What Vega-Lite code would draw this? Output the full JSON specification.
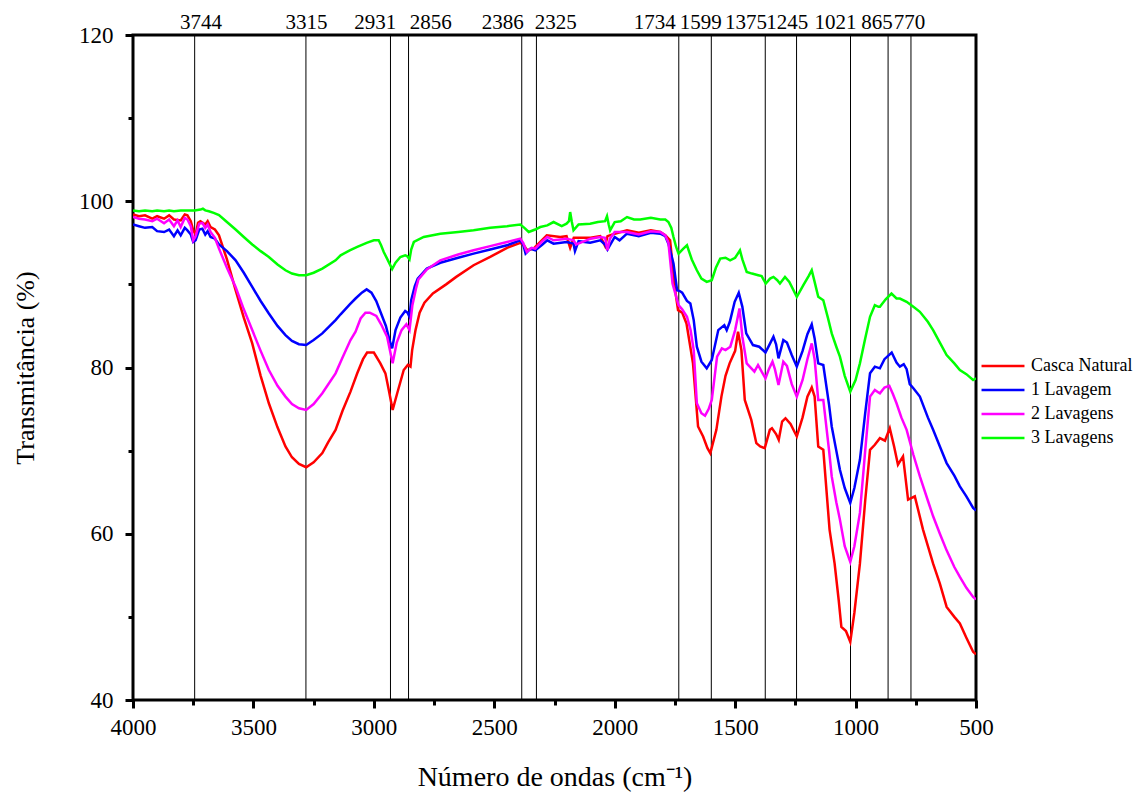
{
"$schema": "https://vega.github.io/schema/vega-lite/v6.json",
"autosize": {"type": "none"},
"padding": {"left": 133, "top": 35, "right": 160, "bottom": 93},
"width": 843,
"height": 665,
"background": "white",
"config": {"view": {"stroke": "black", "strokeWidth": 3}, "font": "Liberation Serif"},
"datasets": {
"peaks": [
{"wn": 3744, "lx": 3718, "label": "3744"},
{"wn": 3282, "lx": 3280, "label": "3315"},
{"wn": 2931, "lx": 2994, "label": "2931"},
{"wn": 2856, "lx": 2764, "label": "2856"},
{"wn": 2386, "lx": 2465, "label": "2386"},
{"wn": 2325, "lx": 2245, "label": "2325"},
{"wn": 1734, "lx": 1834, "label": "1734"},
{"wn": 1599, "lx": 1643, "label": "1599"},
{"wn": 1375, "lx": 1455, "label": "1375"},
{"wn": 1245, "lx": 1284, "label": "1245"},
{"wn": 1021, "lx": 1083, "label": "1021"},
{"wn": 865, "lx": 911, "label": "865"},
{"wn": 770, "lx": 776, "label": "770"}
],
"spectra": [
{"s":"Casca Natural","w":4000,"t":98.4},{"s":"Casca Natural","w":3975,"t":98.2},{"s":"Casca Natural","w":3950,"t":98.3},{"s":"Casca Natural","w":3920,"t":97.9},{"s":"Casca Natural","w":3900,"t":98.2},{"s":"Casca Natural","w":3871,"t":97.9},{"s":"Casca Natural","w":3850,"t":98.3},{"s":"Casca Natural","w":3830,"t":97.8},{"s":"Casca Natural","w":3802,"t":97.7},{"s":"Casca Natural","w":3785,"t":98.4},{"s":"Casca Natural","w":3774,"t":98.3},{"s":"Casca Natural","w":3760,"t":97.6},{"s":"Casca Natural","w":3750,"t":96.5},{"s":"Casca Natural","w":3740,"t":96.0},{"s":"Casca Natural","w":3730,"t":97.4},{"s":"Casca Natural","w":3720,"t":97.6},{"s":"Casca Natural","w":3700,"t":97.2},{"s":"Casca Natural","w":3690,"t":97.6},{"s":"Casca Natural","w":3678,"t":96.9},{"s":"Casca Natural","w":3660,"t":96.6},{"s":"Casca Natural","w":3643,"t":95.9},{"s":"Casca Natural","w":3610,"t":93.0},{"s":"Casca Natural","w":3574,"t":89.3},{"s":"Casca Natural","w":3540,"t":86.0},{"s":"Casca Natural","w":3505,"t":82.9},{"s":"Casca Natural","w":3470,"t":79.0},{"s":"Casca Natural","w":3436,"t":75.7},{"s":"Casca Natural","w":3400,"t":72.8},{"s":"Casca Natural","w":3367,"t":70.5},{"s":"Casca Natural","w":3340,"t":69.2},{"s":"Casca Natural","w":3311,"t":68.4},{"s":"Casca Natural","w":3281,"t":68.0},{"s":"Casca Natural","w":3250,"t":68.6},{"s":"Casca Natural","w":3214,"t":69.7},{"s":"Casca Natural","w":3190,"t":71.0},{"s":"Casca Natural","w":3159,"t":72.5},{"s":"Casca Natural","w":3130,"t":74.8},{"s":"Casca Natural","w":3097,"t":77.1},{"s":"Casca Natural","w":3069,"t":79.3},{"s":"Casca Natural","w":3045,"t":81.0},{"s":"Casca Natural","w":3028,"t":81.8},{"s":"Casca Natural","w":3000,"t":81.8},{"s":"Casca Natural","w":2973,"t":80.5},{"s":"Casca Natural","w":2952,"t":79.3},{"s":"Casca Natural","w":2938,"t":77.3},{"s":"Casca Natural","w":2922,"t":74.9},{"s":"Casca Natural","w":2903,"t":76.9},{"s":"Casca Natural","w":2876,"t":79.7},{"s":"Casca Natural","w":2859,"t":80.3},{"s":"Casca Natural","w":2848,"t":80.1},{"s":"Casca Natural","w":2841,"t":82.1},{"s":"Casca Natural","w":2827,"t":84.5},{"s":"Casca Natural","w":2810,"t":86.6},{"s":"Casca Natural","w":2790,"t":87.8},{"s":"Casca Natural","w":2755,"t":88.9},{"s":"Casca Natural","w":2700,"t":90.0},{"s":"Casca Natural","w":2658,"t":90.9},{"s":"Casca Natural","w":2586,"t":92.3},{"s":"Casca Natural","w":2517,"t":93.3},{"s":"Casca Natural","w":2447,"t":94.4},{"s":"Casca Natural","w":2392,"t":95.0},{"s":"Casca Natural","w":2375,"t":94.6},{"s":"Casca Natural","w":2364,"t":94.1},{"s":"Casca Natural","w":2337,"t":94.3},{"s":"Casca Natural","w":2282,"t":95.9},{"s":"Casca Natural","w":2226,"t":95.7},{"s":"Casca Natural","w":2200,"t":95.8},{"s":"Casca Natural","w":2185,"t":94.4},{"s":"Casca Natural","w":2170,"t":95.6},{"s":"Casca Natural","w":2100,"t":95.6},{"s":"Casca Natural","w":2060,"t":95.8},{"s":"Casca Natural","w":2040,"t":94.6},{"s":"Casca Natural","w":2030,"t":95.8},{"s":"Casca Natural","w":2000,"t":96.1},{"s":"Casca Natural","w":1949,"t":96.5},{"s":"Casca Natural","w":1900,"t":96.2},{"s":"Casca Natural","w":1850,"t":96.5},{"s":"Casca Natural","w":1811,"t":96.3},{"s":"Casca Natural","w":1790,"t":95.9},{"s":"Casca Natural","w":1770,"t":95.3},{"s":"Casca Natural","w":1751,"t":89.7},{"s":"Casca Natural","w":1737,"t":86.9},{"s":"Casca Natural","w":1720,"t":86.6},{"s":"Casca Natural","w":1702,"t":85.3},{"s":"Casca Natural","w":1675,"t":80.5},{"s":"Casca Natural","w":1654,"t":72.9},{"s":"Casca Natural","w":1633,"t":71.7},{"s":"Casca Natural","w":1615,"t":70.3},{"s":"Casca Natural","w":1603,"t":69.7},{"s":"Casca Natural","w":1578,"t":72.5},{"s":"Casca Natural","w":1557,"t":76.5},{"s":"Casca Natural","w":1540,"t":79.0},{"s":"Casca Natural","w":1523,"t":80.5},{"s":"Casca Natural","w":1500,"t":82.0},{"s":"Casca Natural","w":1488,"t":84.3},{"s":"Casca Natural","w":1474,"t":82.1},{"s":"Casca Natural","w":1460,"t":76.1},{"s":"Casca Natural","w":1433,"t":73.7},{"s":"Casca Natural","w":1412,"t":70.9},{"s":"Casca Natural","w":1396,"t":70.5},{"s":"Casca Natural","w":1377,"t":70.3},{"s":"Casca Natural","w":1356,"t":72.5},{"s":"Casca Natural","w":1347,"t":72.7},{"s":"Casca Natural","w":1330,"t":72.0},{"s":"Casca Natural","w":1319,"t":71.3},{"s":"Casca Natural","w":1305,"t":73.5},{"s":"Casca Natural","w":1291,"t":73.9},{"s":"Casca Natural","w":1270,"t":73.2},{"s":"Casca Natural","w":1244,"t":71.7},{"s":"Casca Natural","w":1220,"t":74.0},{"s":"Casca Natural","w":1200,"t":76.5},{"s":"Casca Natural","w":1182,"t":77.6},{"s":"Casca Natural","w":1170,"t":76.5},{"s":"Casca Natural","w":1155,"t":70.5},{"s":"Casca Natural","w":1134,"t":70.1},{"s":"Casca Natural","w":1108,"t":60.5},{"s":"Casca Natural","w":1087,"t":56.4},{"s":"Casca Natural","w":1070,"t":52.0},{"s":"Casca Natural","w":1059,"t":48.8},{"s":"Casca Natural","w":1040,"t":48.3},{"s":"Casca Natural","w":1022,"t":47.0},{"s":"Casca Natural","w":1005,"t":50.5},{"s":"Casca Natural","w":982,"t":56.4},{"s":"Casca Natural","w":960,"t":64.0},{"s":"Casca Natural","w":940,"t":70.1},{"s":"Casca Natural","w":920,"t":70.7},{"s":"Casca Natural","w":899,"t":71.5},{"s":"Casca Natural","w":878,"t":71.2},{"s":"Casca Natural","w":858,"t":72.7},{"s":"Casca Natural","w":840,"t":70.5},{"s":"Casca Natural","w":824,"t":68.3},{"s":"Casca Natural","w":803,"t":69.3},{"s":"Casca Natural","w":782,"t":64.1},{"s":"Casca Natural","w":754,"t":64.5},{"s":"Casca Natural","w":720,"t":60.5},{"s":"Casca Natural","w":678,"t":56.4},{"s":"Casca Natural","w":650,"t":54.0},{"s":"Casca Natural","w":622,"t":51.2},{"s":"Casca Natural","w":590,"t":50.0},{"s":"Casca Natural","w":567,"t":49.2},{"s":"Casca Natural","w":540,"t":47.5},{"s":"Casca Natural","w":512,"t":45.8},{"s":"Casca Natural","w":500,"t":45.5},
{"s":"1 Lavagem","w":4000,"t":97.2},{"s":"1 Lavagem","w":3975,"t":97.0},{"s":"1 Lavagem","w":3950,"t":96.8},{"s":"1 Lavagem","w":3920,"t":96.9},{"s":"1 Lavagem","w":3900,"t":96.4},{"s":"1 Lavagem","w":3871,"t":96.3},{"s":"1 Lavagem","w":3850,"t":96.6},{"s":"1 Lavagem","w":3830,"t":95.8},{"s":"1 Lavagem","w":3815,"t":96.5},{"s":"1 Lavagem","w":3802,"t":95.9},{"s":"1 Lavagem","w":3785,"t":96.8},{"s":"1 Lavagem","w":3774,"t":96.5},{"s":"1 Lavagem","w":3760,"t":96.0},{"s":"1 Lavagem","w":3750,"t":95.1},{"s":"1 Lavagem","w":3740,"t":95.3},{"s":"1 Lavagem","w":3725,"t":96.6},{"s":"1 Lavagem","w":3712,"t":96.7},{"s":"1 Lavagem","w":3700,"t":96.0},{"s":"1 Lavagem","w":3690,"t":96.4},{"s":"1 Lavagem","w":3678,"t":95.7},{"s":"1 Lavagem","w":3660,"t":95.5},{"s":"1 Lavagem","w":3643,"t":94.8},{"s":"1 Lavagem","w":3610,"t":94.0},{"s":"1 Lavagem","w":3574,"t":92.9},{"s":"1 Lavagem","w":3540,"t":91.4},{"s":"1 Lavagem","w":3505,"t":89.7},{"s":"1 Lavagem","w":3470,"t":88.0},{"s":"1 Lavagem","w":3436,"t":86.5},{"s":"1 Lavagem","w":3400,"t":85.0},{"s":"1 Lavagem","w":3367,"t":83.9},{"s":"1 Lavagem","w":3340,"t":83.2},{"s":"1 Lavagem","w":3311,"t":82.8},{"s":"1 Lavagem","w":3281,"t":82.7},{"s":"1 Lavagem","w":3250,"t":83.3},{"s":"1 Lavagem","w":3214,"t":84.1},{"s":"1 Lavagem","w":3159,"t":85.7},{"s":"1 Lavagem","w":3138,"t":86.4},{"s":"1 Lavagem","w":3100,"t":87.6},{"s":"1 Lavagem","w":3076,"t":88.3},{"s":"1 Lavagem","w":3050,"t":89.0},{"s":"1 Lavagem","w":3030,"t":89.4},{"s":"1 Lavagem","w":3010,"t":89.0},{"s":"1 Lavagem","w":2990,"t":88.0},{"s":"1 Lavagem","w":2970,"t":86.5},{"s":"1 Lavagem","w":2950,"t":85.0},{"s":"1 Lavagem","w":2935,"t":83.3},{"s":"1 Lavagem","w":2924,"t":82.3},{"s":"1 Lavagem","w":2910,"t":84.5},{"s":"1 Lavagem","w":2890,"t":86.0},{"s":"1 Lavagem","w":2870,"t":86.8},{"s":"1 Lavagem","w":2860,"t":86.6},{"s":"1 Lavagem","w":2852,"t":86.1},{"s":"1 Lavagem","w":2845,"t":88.1},{"s":"1 Lavagem","w":2830,"t":89.8},{"s":"1 Lavagem","w":2818,"t":90.7},{"s":"1 Lavagem","w":2780,"t":91.9},{"s":"1 Lavagem","w":2724,"t":92.6},{"s":"1 Lavagem","w":2650,"t":93.2},{"s":"1 Lavagem","w":2586,"t":93.7},{"s":"1 Lavagem","w":2517,"t":94.2},{"s":"1 Lavagem","w":2447,"t":94.7},{"s":"1 Lavagem","w":2392,"t":95.3},{"s":"1 Lavagem","w":2380,"t":94.8},{"s":"1 Lavagem","w":2370,"t":93.7},{"s":"1 Lavagem","w":2350,"t":94.3},{"s":"1 Lavagem","w":2330,"t":94.1},{"s":"1 Lavagem","w":2300,"t":94.8},{"s":"1 Lavagem","w":2280,"t":95.3},{"s":"1 Lavagem","w":2254,"t":94.9},{"s":"1 Lavagem","w":2200,"t":95.1},{"s":"1 Lavagem","w":2171,"t":94.9},{"s":"1 Lavagem","w":2165,"t":94.0},{"s":"1 Lavagem","w":2150,"t":95.2},{"s":"1 Lavagem","w":2102,"t":95.0},{"s":"1 Lavagem","w":2060,"t":95.3},{"s":"1 Lavagem","w":2040,"t":94.8},{"s":"1 Lavagem","w":2030,"t":94.2},{"s":"1 Lavagem","w":2000,"t":95.7},{"s":"1 Lavagem","w":1980,"t":95.3},{"s":"1 Lavagem","w":1949,"t":96.1},{"s":"1 Lavagem","w":1900,"t":95.8},{"s":"1 Lavagem","w":1850,"t":96.2},{"s":"1 Lavagem","w":1811,"t":96.1},{"s":"1 Lavagem","w":1790,"t":95.8},{"s":"1 Lavagem","w":1777,"t":94.9},{"s":"1 Lavagem","w":1756,"t":92.5},{"s":"1 Lavagem","w":1741,"t":89.3},{"s":"1 Lavagem","w":1730,"t":89.2},{"s":"1 Lavagem","w":1720,"t":89.0},{"s":"1 Lavagem","w":1700,"t":88.0},{"s":"1 Lavagem","w":1686,"t":87.7},{"s":"1 Lavagem","w":1672,"t":85.7},{"s":"1 Lavagem","w":1659,"t":82.5},{"s":"1 Lavagem","w":1640,"t":80.7},{"s":"1 Lavagem","w":1618,"t":79.9},{"s":"1 Lavagem","w":1597,"t":80.9},{"s":"1 Lavagem","w":1570,"t":84.5},{"s":"1 Lavagem","w":1545,"t":85.1},{"s":"1 Lavagem","w":1535,"t":84.5},{"s":"1 Lavagem","w":1522,"t":85.5},{"s":"1 Lavagem","w":1502,"t":87.9},{"s":"1 Lavagem","w":1485,"t":89.0},{"s":"1 Lavagem","w":1470,"t":87.3},{"s":"1 Lavagem","w":1454,"t":84.1},{"s":"1 Lavagem","w":1426,"t":82.7},{"s":"1 Lavagem","w":1400,"t":82.5},{"s":"1 Lavagem","w":1374,"t":81.8},{"s":"1 Lavagem","w":1360,"t":82.6},{"s":"1 Lavagem","w":1341,"t":83.7},{"s":"1 Lavagem","w":1330,"t":82.8},{"s":"1 Lavagem","w":1320,"t":81.1},{"s":"1 Lavagem","w":1300,"t":83.3},{"s":"1 Lavagem","w":1285,"t":83.0},{"s":"1 Lavagem","w":1265,"t":81.5},{"s":"1 Lavagem","w":1244,"t":80.1},{"s":"1 Lavagem","w":1220,"t":82.0},{"s":"1 Lavagem","w":1200,"t":84.0},{"s":"1 Lavagem","w":1182,"t":85.2},{"s":"1 Lavagem","w":1170,"t":83.5},{"s":"1 Lavagem","w":1155,"t":80.5},{"s":"1 Lavagem","w":1134,"t":80.3},{"s":"1 Lavagem","w":1110,"t":75.5},{"s":"1 Lavagem","w":1099,"t":72.9},{"s":"1 Lavagem","w":1080,"t":70.0},{"s":"1 Lavagem","w":1065,"t":67.7},{"s":"1 Lavagem","w":1045,"t":65.5},{"s":"1 Lavagem","w":1022,"t":63.7},{"s":"1 Lavagem","w":1005,"t":65.5},{"s":"1 Lavagem","w":982,"t":68.9},{"s":"1 Lavagem","w":960,"t":74.5},{"s":"1 Lavagem","w":940,"t":79.3},{"s":"1 Lavagem","w":920,"t":80.1},{"s":"1 Lavagem","w":899,"t":79.9},{"s":"1 Lavagem","w":880,"t":81.0},{"s":"1 Lavagem","w":850,"t":81.8},{"s":"1 Lavagem","w":830,"t":80.6},{"s":"1 Lavagem","w":816,"t":80.1},{"s":"1 Lavagem","w":800,"t":80.4},{"s":"1 Lavagem","w":788,"t":79.8},{"s":"1 Lavagem","w":775,"t":78.0},{"s":"1 Lavagem","w":760,"t":77.5},{"s":"1 Lavagem","w":733,"t":76.5},{"s":"1 Lavagem","w":700,"t":74.0},{"s":"1 Lavagem","w":678,"t":72.5},{"s":"1 Lavagem","w":650,"t":70.5},{"s":"1 Lavagem","w":622,"t":68.5},{"s":"1 Lavagem","w":590,"t":67.0},{"s":"1 Lavagem","w":567,"t":65.7},{"s":"1 Lavagem","w":540,"t":64.5},{"s":"1 Lavagem","w":512,"t":63.1},{"s":"1 Lavagem","w":500,"t":62.8},
{"s":"2 Lavagens","w":4000,"t":98.1},{"s":"2 Lavagens","w":3975,"t":97.9},{"s":"2 Lavagens","w":3950,"t":97.8},{"s":"2 Lavagens","w":3920,"t":97.6},{"s":"2 Lavagens","w":3900,"t":97.9},{"s":"2 Lavagens","w":3871,"t":97.35},{"s":"2 Lavagens","w":3850,"t":97.8},{"s":"2 Lavagens","w":3830,"t":97.0},{"s":"2 Lavagens","w":3815,"t":97.7},{"s":"2 Lavagens","w":3802,"t":96.9},{"s":"2 Lavagens","w":3785,"t":98.0},{"s":"2 Lavagens","w":3774,"t":97.8},{"s":"2 Lavagens","w":3760,"t":97.0},{"s":"2 Lavagens","w":3750,"t":95.3},{"s":"2 Lavagens","w":3740,"t":95.8},{"s":"2 Lavagens","w":3725,"t":97.3},{"s":"2 Lavagens","w":3712,"t":97.4},{"s":"2 Lavagens","w":3700,"t":96.8},{"s":"2 Lavagens","w":3690,"t":97.2},{"s":"2 Lavagens","w":3678,"t":96.3},{"s":"2 Lavagens","w":3660,"t":95.6},{"s":"2 Lavagens","w":3643,"t":94.3},{"s":"2 Lavagens","w":3610,"t":92.0},{"s":"2 Lavagens","w":3574,"t":89.7},{"s":"2 Lavagens","w":3540,"t":87.0},{"s":"2 Lavagens","w":3505,"t":84.5},{"s":"2 Lavagens","w":3470,"t":82.0},{"s":"2 Lavagens","w":3436,"t":79.7},{"s":"2 Lavagens","w":3400,"t":77.8},{"s":"2 Lavagens","w":3367,"t":76.5},{"s":"2 Lavagens","w":3340,"t":75.6},{"s":"2 Lavagens","w":3311,"t":75.1},{"s":"2 Lavagens","w":3281,"t":74.9},{"s":"2 Lavagens","w":3250,"t":75.6},{"s":"2 Lavagens","w":3214,"t":76.9},{"s":"2 Lavagens","w":3159,"t":79.3},{"s":"2 Lavagens","w":3130,"t":81.2},{"s":"2 Lavagens","w":3097,"t":83.3},{"s":"2 Lavagens","w":3076,"t":84.3},{"s":"2 Lavagens","w":3055,"t":85.9},{"s":"2 Lavagens","w":3035,"t":86.6},{"s":"2 Lavagens","w":3017,"t":86.6},{"s":"2 Lavagens","w":2990,"t":86.2},{"s":"2 Lavagens","w":2970,"t":85.2},{"s":"2 Lavagens","w":2945,"t":83.7},{"s":"2 Lavagens","w":2922,"t":80.5},{"s":"2 Lavagens","w":2905,"t":83.0},{"s":"2 Lavagens","w":2885,"t":84.5},{"s":"2 Lavagens","w":2865,"t":85.2},{"s":"2 Lavagens","w":2852,"t":84.5},{"s":"2 Lavagens","w":2840,"t":87.5},{"s":"2 Lavagens","w":2825,"t":89.5},{"s":"2 Lavagens","w":2815,"t":90.6},{"s":"2 Lavagens","w":2780,"t":91.8},{"s":"2 Lavagens","w":2724,"t":92.9},{"s":"2 Lavagens","w":2650,"t":93.6},{"s":"2 Lavagens","w":2586,"t":94.1},{"s":"2 Lavagens","w":2517,"t":94.6},{"s":"2 Lavagens","w":2447,"t":95.1},{"s":"2 Lavagens","w":2392,"t":95.5},{"s":"2 Lavagens","w":2380,"t":95.0},{"s":"2 Lavagens","w":2365,"t":93.9},{"s":"2 Lavagens","w":2345,"t":94.4},{"s":"2 Lavagens","w":2330,"t":94.3},{"s":"2 Lavagens","w":2300,"t":95.2},{"s":"2 Lavagens","w":2280,"t":95.7},{"s":"2 Lavagens","w":2254,"t":95.3},{"s":"2 Lavagens","w":2200,"t":95.5},{"s":"2 Lavagens","w":2171,"t":95.3},{"s":"2 Lavagens","w":2160,"t":94.8},{"s":"2 Lavagens","w":2100,"t":95.5},{"s":"2 Lavagens","w":2060,"t":95.7},{"s":"2 Lavagens","w":2040,"t":95.6},{"s":"2 Lavagens","w":2030,"t":94.1},{"s":"2 Lavagens","w":2020,"t":95.5},{"s":"2 Lavagens","w":2000,"t":96.3},{"s":"2 Lavagens","w":1949,"t":96.3},{"s":"2 Lavagens","w":1900,"t":96.0},{"s":"2 Lavagens","w":1850,"t":96.4},{"s":"2 Lavagens","w":1811,"t":96.3},{"s":"2 Lavagens","w":1790,"t":95.9},{"s":"2 Lavagens","w":1777,"t":95.0},{"s":"2 Lavagens","w":1760,"t":90.1},{"s":"2 Lavagens","w":1735,"t":87.5},{"s":"2 Lavagens","w":1720,"t":87.0},{"s":"2 Lavagens","w":1700,"t":86.1},{"s":"2 Lavagens","w":1685,"t":84.5},{"s":"2 Lavagens","w":1672,"t":82.1},{"s":"2 Lavagens","w":1659,"t":75.7},{"s":"2 Lavagens","w":1640,"t":74.5},{"s":"2 Lavagens","w":1625,"t":74.2},{"s":"2 Lavagens","w":1610,"t":75.0},{"s":"2 Lavagens","w":1597,"t":76.1},{"s":"2 Lavagens","w":1575,"t":81.3},{"s":"2 Lavagens","w":1555,"t":82.3},{"s":"2 Lavagens","w":1540,"t":82.1},{"s":"2 Lavagens","w":1520,"t":82.5},{"s":"2 Lavagens","w":1500,"t":84.5},{"s":"2 Lavagens","w":1482,"t":87.1},{"s":"2 Lavagens","w":1470,"t":83.7},{"s":"2 Lavagens","w":1452,"t":80.5},{"s":"2 Lavagens","w":1420,"t":79.5},{"s":"2 Lavagens","w":1405,"t":80.3},{"s":"2 Lavagens","w":1390,"t":79.5},{"s":"2 Lavagens","w":1374,"t":78.7},{"s":"2 Lavagens","w":1360,"t":79.8},{"s":"2 Lavagens","w":1345,"t":80.7},{"s":"2 Lavagens","w":1335,"t":79.8},{"s":"2 Lavagens","w":1320,"t":77.9},{"s":"2 Lavagens","w":1300,"t":80.7},{"s":"2 Lavagens","w":1285,"t":80.2},{"s":"2 Lavagens","w":1265,"t":78.0},{"s":"2 Lavagens","w":1244,"t":76.5},{"s":"2 Lavagens","w":1220,"t":78.5},{"s":"2 Lavagens","w":1200,"t":81.0},{"s":"2 Lavagens","w":1182,"t":82.9},{"s":"2 Lavagens","w":1170,"t":81.0},{"s":"2 Lavagens","w":1155,"t":76.1},{"s":"2 Lavagens","w":1134,"t":76.1},{"s":"2 Lavagens","w":1110,"t":70.0},{"s":"2 Lavagens","w":1099,"t":66.9},{"s":"2 Lavagens","w":1080,"t":63.8},{"s":"2 Lavagens","w":1065,"t":61.7},{"s":"2 Lavagens","w":1045,"t":58.5},{"s":"2 Lavagens","w":1022,"t":56.6},{"s":"2 Lavagens","w":1005,"t":58.5},{"s":"2 Lavagens","w":982,"t":62.5},{"s":"2 Lavagens","w":960,"t":70.0},{"s":"2 Lavagens","w":940,"t":76.5},{"s":"2 Lavagens","w":920,"t":77.3},{"s":"2 Lavagens","w":905,"t":77.0},{"s":"2 Lavagens","w":899,"t":76.9},{"s":"2 Lavagens","w":880,"t":77.6},{"s":"2 Lavagens","w":860,"t":77.8},{"s":"2 Lavagens","w":845,"t":76.8},{"s":"2 Lavagens","w":830,"t":75.7},{"s":"2 Lavagens","w":810,"t":74.0},{"s":"2 Lavagens","w":788,"t":72.5},{"s":"2 Lavagens","w":760,"t":69.5},{"s":"2 Lavagens","w":733,"t":66.9},{"s":"2 Lavagens","w":700,"t":64.0},{"s":"2 Lavagens","w":678,"t":62.1},{"s":"2 Lavagens","w":650,"t":60.0},{"s":"2 Lavagens","w":622,"t":58.0},{"s":"2 Lavagens","w":590,"t":56.0},{"s":"2 Lavagens","w":567,"t":54.8},{"s":"2 Lavagens","w":540,"t":53.5},{"s":"2 Lavagens","w":512,"t":52.4},{"s":"2 Lavagens","w":500,"t":52.1},
{"s":"3 Lavagens","w":4000,"t":98.9},{"s":"3 Lavagens","w":3975,"t":98.8},{"s":"3 Lavagens","w":3950,"t":98.9},{"s":"3 Lavagens","w":3920,"t":98.8},{"s":"3 Lavagens","w":3900,"t":98.9},{"s":"3 Lavagens","w":3871,"t":98.8},{"s":"3 Lavagens","w":3850,"t":98.9},{"s":"3 Lavagens","w":3830,"t":98.8},{"s":"3 Lavagens","w":3802,"t":98.9},{"s":"3 Lavagens","w":3774,"t":98.9},{"s":"3 Lavagens","w":3744,"t":98.9},{"s":"3 Lavagens","w":3720,"t":99.0},{"s":"3 Lavagens","w":3710,"t":99.1},{"s":"3 Lavagens","w":3700,"t":98.9},{"s":"3 Lavagens","w":3685,"t":98.8},{"s":"3 Lavagens","w":3665,"t":98.6},{"s":"3 Lavagens","w":3643,"t":98.35},{"s":"3 Lavagens","w":3610,"t":97.5},{"s":"3 Lavagens","w":3574,"t":96.6},{"s":"3 Lavagens","w":3540,"t":95.7},{"s":"3 Lavagens","w":3505,"t":94.8},{"s":"3 Lavagens","w":3470,"t":94.0},{"s":"3 Lavagens","w":3436,"t":93.3},{"s":"3 Lavagens","w":3400,"t":92.4},{"s":"3 Lavagens","w":3367,"t":91.7},{"s":"3 Lavagens","w":3340,"t":91.3},{"s":"3 Lavagens","w":3311,"t":91.1},{"s":"3 Lavagens","w":3281,"t":91.1},{"s":"3 Lavagens","w":3250,"t":91.4},{"s":"3 Lavagens","w":3214,"t":91.9},{"s":"3 Lavagens","w":3159,"t":92.9},{"s":"3 Lavagens","w":3138,"t":93.5},{"s":"3 Lavagens","w":3100,"t":94.1},{"s":"3 Lavagens","w":3069,"t":94.5},{"s":"3 Lavagens","w":3030,"t":95.0},{"s":"3 Lavagens","w":3000,"t":95.3},{"s":"3 Lavagens","w":2980,"t":95.3},{"s":"3 Lavagens","w":2970,"t":94.7},{"s":"3 Lavagens","w":2959,"t":93.9},{"s":"3 Lavagens","w":2940,"t":92.8},{"s":"3 Lavagens","w":2924,"t":91.85},{"s":"3 Lavagens","w":2910,"t":92.6},{"s":"3 Lavagens","w":2890,"t":93.3},{"s":"3 Lavagens","w":2870,"t":93.5},{"s":"3 Lavagens","w":2862,"t":93.4},{"s":"3 Lavagens","w":2852,"t":93.0},{"s":"3 Lavagens","w":2845,"t":94.2},{"s":"3 Lavagens","w":2834,"t":95.1},{"s":"3 Lavagens","w":2793,"t":95.7},{"s":"3 Lavagens","w":2724,"t":96.1},{"s":"3 Lavagens","w":2650,"t":96.3},{"s":"3 Lavagens","w":2586,"t":96.5},{"s":"3 Lavagens","w":2517,"t":96.8},{"s":"3 Lavagens","w":2447,"t":97.0},{"s":"3 Lavagens","w":2392,"t":97.2},{"s":"3 Lavagens","w":2375,"t":96.8},{"s":"3 Lavagens","w":2357,"t":96.3},{"s":"3 Lavagens","w":2330,"t":96.6},{"s":"3 Lavagens","w":2309,"t":96.9},{"s":"3 Lavagens","w":2280,"t":97.1},{"s":"3 Lavagens","w":2254,"t":97.5},{"s":"3 Lavagens","w":2220,"t":97.0},{"s":"3 Lavagens","w":2200,"t":97.3},{"s":"3 Lavagens","w":2190,"t":97.6},{"s":"3 Lavagens","w":2185,"t":98.7},{"s":"3 Lavagens","w":2178,"t":97.5},{"s":"3 Lavagens","w":2171,"t":96.5},{"s":"3 Lavagens","w":2150,"t":97.2},{"s":"3 Lavagens","w":2102,"t":97.3},{"s":"3 Lavagens","w":2070,"t":97.5},{"s":"3 Lavagens","w":2040,"t":97.6},{"s":"3 Lavagens","w":2032,"t":98.2},{"s":"3 Lavagens","w":2025,"t":97.2},{"s":"3 Lavagens","w":2019,"t":96.5},{"s":"3 Lavagens","w":2000,"t":97.5},{"s":"3 Lavagens","w":1975,"t":97.6},{"s":"3 Lavagens","w":1949,"t":98.1},{"s":"3 Lavagens","w":1920,"t":97.8},{"s":"3 Lavagens","w":1894,"t":97.8},{"s":"3 Lavagens","w":1850,"t":98.0},{"s":"3 Lavagens","w":1811,"t":97.8},{"s":"3 Lavagens","w":1790,"t":97.8},{"s":"3 Lavagens","w":1777,"t":97.5},{"s":"3 Lavagens","w":1765,"t":96.8},{"s":"3 Lavagens","w":1756,"t":95.7},{"s":"3 Lavagens","w":1745,"t":94.5},{"s":"3 Lavagens","w":1735,"t":93.7},{"s":"3 Lavagens","w":1715,"t":94.3},{"s":"3 Lavagens","w":1700,"t":94.7},{"s":"3 Lavagens","w":1680,"t":93.0},{"s":"3 Lavagens","w":1659,"t":91.7},{"s":"3 Lavagens","w":1640,"t":90.7},{"s":"3 Lavagens","w":1618,"t":90.3},{"s":"3 Lavagens","w":1597,"t":90.5},{"s":"3 Lavagens","w":1580,"t":92.0},{"s":"3 Lavagens","w":1562,"t":93.1},{"s":"3 Lavagens","w":1540,"t":93.2},{"s":"3 Lavagens","w":1521,"t":92.9},{"s":"3 Lavagens","w":1500,"t":93.2},{"s":"3 Lavagens","w":1480,"t":94.1},{"s":"3 Lavagens","w":1470,"t":93.0},{"s":"3 Lavagens","w":1452,"t":91.5},{"s":"3 Lavagens","w":1430,"t":91.3},{"s":"3 Lavagens","w":1404,"t":91.1},{"s":"3 Lavagens","w":1390,"t":91.0},{"s":"3 Lavagens","w":1373,"t":90.1},{"s":"3 Lavagens","w":1355,"t":90.7},{"s":"3 Lavagens","w":1341,"t":90.9},{"s":"3 Lavagens","w":1325,"t":90.5},{"s":"3 Lavagens","w":1314,"t":90.1},{"s":"3 Lavagens","w":1293,"t":90.9},{"s":"3 Lavagens","w":1275,"t":90.3},{"s":"3 Lavagens","w":1244,"t":88.5},{"s":"3 Lavagens","w":1215,"t":90.0},{"s":"3 Lavagens","w":1195,"t":91.0},{"s":"3 Lavagens","w":1182,"t":91.7},{"s":"3 Lavagens","w":1170,"t":90.3},{"s":"3 Lavagens","w":1155,"t":88.5},{"s":"3 Lavagens","w":1134,"t":88.1},{"s":"3 Lavagens","w":1115,"t":86.0},{"s":"3 Lavagens","w":1099,"t":84.1},{"s":"3 Lavagens","w":1080,"t":82.5},{"s":"3 Lavagens","w":1065,"t":81.3},{"s":"3 Lavagens","w":1045,"t":79.0},{"s":"3 Lavagens","w":1022,"t":77.1},{"s":"3 Lavagens","w":1000,"t":78.5},{"s":"3 Lavagens","w":982,"t":80.5},{"s":"3 Lavagens","w":960,"t":83.5},{"s":"3 Lavagens","w":940,"t":86.1},{"s":"3 Lavagens","w":920,"t":87.5},{"s":"3 Lavagens","w":905,"t":87.3},{"s":"3 Lavagens","w":899,"t":87.3},{"s":"3 Lavagens","w":875,"t":88.2},{"s":"3 Lavagens","w":851,"t":88.9},{"s":"3 Lavagens","w":830,"t":88.3},{"s":"3 Lavagens","w":816,"t":88.3},{"s":"3 Lavagens","w":788,"t":87.9},{"s":"3 Lavagens","w":760,"t":87.3},{"s":"3 Lavagens","w":733,"t":86.7},{"s":"3 Lavagens","w":700,"t":85.5},{"s":"3 Lavagens","w":678,"t":84.5},{"s":"3 Lavagens","w":650,"t":83.0},{"s":"3 Lavagens","w":622,"t":81.5},{"s":"3 Lavagens","w":590,"t":80.5},{"s":"3 Lavagens","w":567,"t":79.7},{"s":"3 Lavagens","w":540,"t":79.2},{"s":"3 Lavagens","w":512,"t":78.5},{"s":"3 Lavagens","w":500,"t":78.7}
]
},
"layer": [
{
"data": {"name": "peaks"},
"mark": {"type": "rule", "stroke": "black", "strokeWidth": 1},
"encoding": {
"x": {"field": "wn", "type": "quantitative", "scale": {"domain": [4000, 500], "zero": false, "nice": false},
"axis": {"orient": "bottom", "values": [3750, 3250, 2750, 2250, 1750, 1250, 750], "labels": false, "domain": false, "grid": false, "title": null, "tickSize": 5, "tickWidth": 3, "tickColor": "black"}}
}
},
{
"data": {"name": "peaks"},
"mark": {"type": "text", "fontSize": 21, "font": "Liberation Serif", "baseline": "alphabetic", "dy": -6, "color": "black"},
"encoding": {
"x": {"field": "lx", "type": "quantitative", "axis": null},
"y": {"datum": 120, "type": "quantitative", "axis": {"orient": "left", "values": [50, 70, 90, 110], "labels": false, "domain": false, "grid": false, "title": null, "tickSize": 5, "tickWidth": 3, "tickColor": "black"}},
"text": {"field": "label"}
}
},
{
"data": {"name": "spectra"},
"mark": {"type": "line", "strokeWidth": 2.5, "clip": true},
"encoding": {
"x": {"field": "w", "type": "quantitative",
"axis": {"orient": "bottom", "values": [4000, 3500, 3000, 2500, 2000, 1500, 1000, 500], "format": "d", "domain": false, "grid": false, "tickSize": 8, "tickWidth": 3, "tickColor": "black", "labelFont": "Liberation Serif", "labelFontSize": 23, "labelColor": "black", "labelPadding": 8, "labelFlush": false, "labelOverlap": false, "title": "Número de ondas (cm⁻¹)", "titleFont": "Liberation Serif", "titleFontSize": 28, "titleFontWeight": "normal", "titleColor": "black", "titlePadding": 24}},
"y": {"field": "t", "type": "quantitative", "scale": {"domain": [40, 120], "zero": false, "nice": false},
"axis": {"orient": "left", "values": [40, 60, 80, 100, 120], "domain": false, "grid": false, "tickSize": 8, "tickWidth": 3, "tickColor": "black", "labelFont": "Liberation Serif", "labelFontSize": 23, "labelColor": "black", "labelPadding": 12, "labelFlush": false, "labelOverlap": false, "title": "Transmitância (%)", "titleFont": "Liberation Serif", "titleFontSize": 26, "titleFontWeight": "normal", "titleColor": "black", "titlePadding": 40}},
"color": {"field": "s", "type": "nominal",
"scale": {"domain": ["Casca Natural", "1 Lavagem", "2 Lavagens", "3 Lavagens"], "range": ["#FF0000", "#0000FF", "#FF00FF", "#00FF00"]},
"legend": {"orient": "none", "legendX": 861, "legendY": 322, "title": null, "padding": 0, "symbolType": "M-3,0H3", "symbolSize": 205, "symbolStrokeWidth": 2.5, "labelFont": "Liberation Serif", "labelFontSize": 18, "labelColor": "black", "labelOffset": 19, "rowPadding": 6}}
}
}
],
"resolve": {"axis": {"x": "independent", "y": "independent"}}
}
